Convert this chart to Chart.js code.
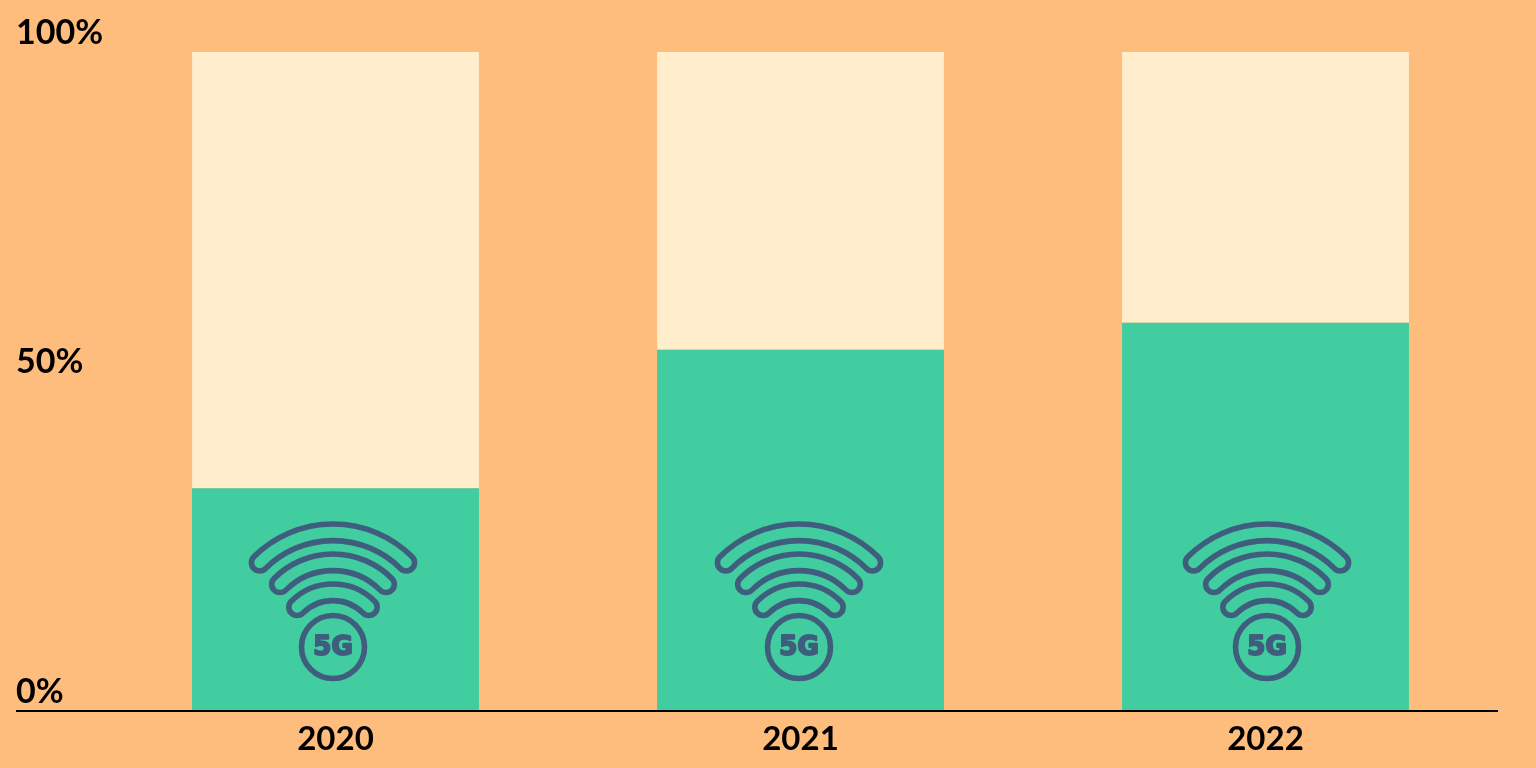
<!DOCTYPE html>
<html>
<head>
<meta charset="utf-8">
<script src="https://cdn.jsdelivr.net/npm/chart.js@4"></script>
<style>
    html, body { margin: 0; background: #ffbd7d; }
    canvas { display: block; }
</style>
</head>
<body>
<canvas id="chart" width="1536" height="768"></canvas>
<script>
const years = ["2020", "2021", "2022"];
const greenShare = [33.8, 54.8, 58.9];
const creamShare = [66.2, 45.2, 41.1];
const yTicks = [0, 50, 100];

const ICON_COLOR = "#3f5d7d";

// the little 5G wifi icon, drawn relative to the centre of its circle
function drawBand(ctx, cx, cy, topOffset, radius) {
    const half = 8.3;
    const start = -Math.PI * 0.75;
    const end = -Math.PI * 0.25;
    const ay = cy + topOffset + radius;

    const capLeft = [cx + radius * Math.cos(start), ay + radius * Math.sin(start)];
    const capRight = [cx + radius * Math.cos(end), ay + radius * Math.sin(end)];

    ctx.beginPath();
    ctx.arc(cx, ay, radius + half, start, end);
    ctx.arc(capRight[0], capRight[1], half, end, end + Math.PI);
    ctx.arc(cx, ay, radius - half, end, start, true);
    ctx.arc(capLeft[0], capLeft[1], half, start + Math.PI, start);
    ctx.closePath();
    ctx.stroke();
}

const wifiIcons = {
    id: "wifiIcons",
    afterDatasetsDraw(chart) {
        const ctx = chart.ctx;
        const bars = chart.getDatasetMeta(0).data;
        const shift = [-2.5, -1.5, 1.5];

        ctx.save();
        ctx.strokeStyle = ICON_COLOR;
        ctx.fillStyle = ICON_COLOR;
        ctx.lineWidth = 5.6;
        ctx.lineJoin = "round";

        bars.forEach((bar, i) => {
            const cx = bar.x + shift[i];
            const cy = 647;

            drawBand(ctx, cx, cy, -114.7, 103.6);
            drawBand(ctx, cx, cy, -84.7, 75);
            drawBand(ctx, cx, cy, -54.7, 50.7);

            ctx.beginPath();
            ctx.arc(cx, cy, 31.5, 0, Math.PI * 2);
            ctx.stroke();

            ctx.save();
            ctx.font = "bold 26px 'DejaVu Sans'";
            ctx.textAlign = "center";
            ctx.textBaseline = "middle";
            ctx.lineWidth = 2;
            ctx.fillText("5G", cx, cy + 1);
            ctx.strokeText("5G", cx, cy + 1);
            ctx.restore();
        });

        ctx.restore();
    }
};

// baseline runs under the y labels as well
const baseLine = {
    id: "baseLine",
    afterDraw(chart) {
        const ctx = chart.ctx;
        const y = chart.scales.y.getPixelForValue(0);

        ctx.save();
        ctx.strokeStyle = "#000000";
        ctx.lineWidth = 2;
        ctx.beginPath();
        ctx.moveTo(16, y);
        ctx.lineTo(chart.chartArea.right, y);
        ctx.stroke();
        ctx.restore();
    }
};

new Chart("chart", {
    type: "bar",
    data: {
        labels: years,
        datasets: [
            { data: greenShare, backgroundColor: "#41cda0" },
            { data: creamShare, backgroundColor: "#ffedcc" }
        ]
    },
    options: {
        responsive: false,
        animation: false,
        barPercentage: 0.617,
        categoryPercentage: 1,
        layout: { padding: { left: 16, right: 38, top: 52, bottom: 0 } },
        plugins: {
            legend: { display: false },
            title: { display: false },
            tooltip: { enabled: false }
        },
        scales: {
            x: {
                stacked: true,
                grid: { display: false, drawTicks: false },
                border: { display: false },
                ticks: {
                    color: "#000000",
                    padding: 9,
                    maxRotation: 0,
                    font: { family: "Lato", weight: "bold", size: 33 }
                },
                afterFit(scale) { scale.height = 57; }
            },
            y: {
                stacked: true,
                min: 0,
                max: 100,
                afterBuildTicks(scale) { scale.ticks = yTicks.map(v => ({ value: v })); },
                grid: { display: false, drawTicks: false },
                border: { display: false },
                ticks: {
                    color: "#000000",
                    crossAlign: "far",
                    labelOffset: -19,
                    callback: v => v + "%",
                    font: { family: "Lato", weight: "bold", size: 34 }
                },
                afterFit(scale) { scale.width = 87; }
            }
        }
    },
    plugins: [wifiIcons, baseLine]
});
</script>
</body>
</html>
